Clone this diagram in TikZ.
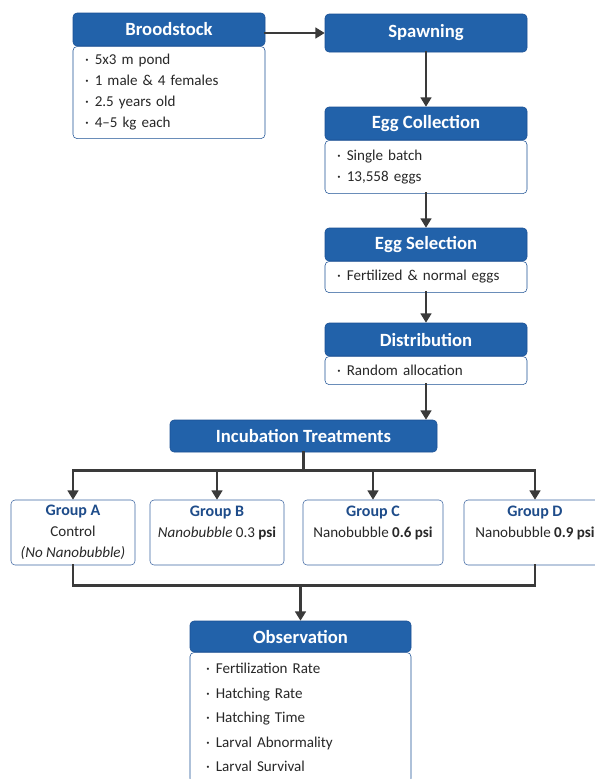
\documentclass[tikz,border=0pt]{standalone}
\usepackage{fontspec}
\setmainfont{Carlito}
\usepackage{tikz}
\usetikzlibrary{arrows.meta, positioning, calc}

\definecolor{headblue}{RGB}{34,98,170}
\definecolor{edgeblue}{RGB}{27,80,148}
\definecolor{grpedge}{RGB}{62,102,162}
\definecolor{grptitle}{RGB}{30,76,138}
\definecolor{flowgray}{RGB}{58,58,58}
\definecolor{txtgray}{RGB}{40,40,40}

\newcommand{\itm}{\textperiodcentered\hspace{0.4em}}
\newcommand{\gtitle}[1]{{\color{grptitle}\fontsize{12}{15.75}\selectfont\bfseries #1}}

\begin{document}
\begin{tikzpicture}[
        x=0.75pt, y=-0.75pt,
        >={Triangle[width=8pt,length=7pt]},
        head/.style={draw=edgeblue, fill=headblue, text=white, rounded corners=3pt, inner sep=0pt, minimum height=24.75pt, font=\fontsize{14}{16}\selectfont\bfseries},
        list/.style={draw=edgeblue, fill=white, rounded corners=3pt, anchor=north, align=left, inner xsep=9pt, inner ysep=0pt, text=txtgray, font=\fontsize{11.3}{15.75}\selectfont},
        grp/.style={draw=grpedge, fill=white, rounded corners=3pt, align=center, minimum height=48.75pt, inner sep=2pt, text=txtgray, font=\fontsize{11.3}{15.75}\selectfont},
        flow/.style={draw=flowgray, line width=2pt, line cap=rect}
    ]
        \path[use as bounding box, fill=white] (0,0) rectangle (594,779);

        % Broodstock and Spawning
        \node[head, minimum width=144pt] (brood) at (169,29.5) {Broodstock};
        \node[list, text width=126pt, minimum height=69pt, below=0pt of brood] (broodlist) {\itm 5x3 m pond\\\itm 1 male \& 4 females\\\itm 2.5 years old\\\itm 4--5 kg each};
        \node[head, minimum width=151.5pt, minimum height=28.5pt] (spawn) at (426,33) {Spawning};

        % Right column
        \node[head, minimum width=151.5pt] (collect) at (426,123.5) {Egg Collection};
        \node[list, text width=133.5pt, minimum height=39.75pt, below=0pt of collect] (collectlist) {\itm Single batch\\\itm 13,558 eggs};
        \node[head, minimum width=151.5pt] (select) at (426,244.5) {Egg Selection};
        \node[list, text width=133.5pt, minimum height=23.25pt, below=0pt of select] (selectlist) {\itm Fertilized \& normal eggs};
        \node[head, minimum width=151.5pt] (distrib) at (426,339.5) {Distribution};
        \node[list, text width=133.5pt, minimum height=21pt, below=0pt of distrib] (distriblist) {\itm Random allocation};

        % Treatments
        \node[head, minimum width=200.25pt, minimum height=24pt] (incub) at (303.5,436) {Incubation Treatments};
        \node[grp, minimum width=93pt] (grpA) at (73,532.5) {\gtitle{Group A}\\Control\\\textit{(No Nanobubble)}};
        \node[grp, minimum width=100.5pt] (grpB) at (217,532.5) {\gtitle{Group B}\\\textit{Nanobubble} 0.3 \textbf{psi}\\\mbox{}};
        \node[grp, minimum width=105pt] (grpC) at (373,532.5) {\gtitle{Group C}\\Nanobubble \textbf{0.6 psi}\\\mbox{}};
        \node[grp, minimum width=106.5pt] (grpD) at (535,532.5) {\gtitle{Group D}\\Nanobubble \textbf{0.9 psi}\\\mbox{}};

        % Observation
        \node[head, minimum width=165.75pt, minimum height=23.25pt] (observe) at (300.5,636.5) {Observation};
        \node[list, text width=141.75pt, inner xsep=12pt, minimum height=97.5pt, font=\fontsize{11.3}{18.4}\selectfont, below=0pt of observe] (observelist) {\itm Fertilization Rate\\\itm Hatching Rate\\\itm Hatching Time\\\itm Larval Abnormality\\\itm Larval Survival};

        % Arrows
        \draw[flow, ->] (brood.east |- spawn) -- (spawn.west);
        \draw[flow, ->] (spawn) -- (collect);
        \draw[flow, ->] (collectlist) -- (select);
        \draw[flow, ->] (selectlist) -- (distrib);
        \draw[flow, ->] (distriblist.south) -- (distriblist.south |- incub.north);

        % Split into the groups
        \draw[flow] (incub.south) -- ++(0,18) coordinate (split);
        \draw[flow] (grpA.north |- split) -- (grpD.north |- split);
        \foreach \g in {grpA,grpB,grpC,grpD}
            \draw[flow, ->] (\g.north |- split) -- (\g.north);

        % Join to observation
        \draw[flow] (grpA.south) -- ++(0,20) coordinate (join) -| (grpD.south);
        \draw[flow, ->] (observe.north |- join) -- (observe.north);

    \end{tikzpicture}
\end{document}
